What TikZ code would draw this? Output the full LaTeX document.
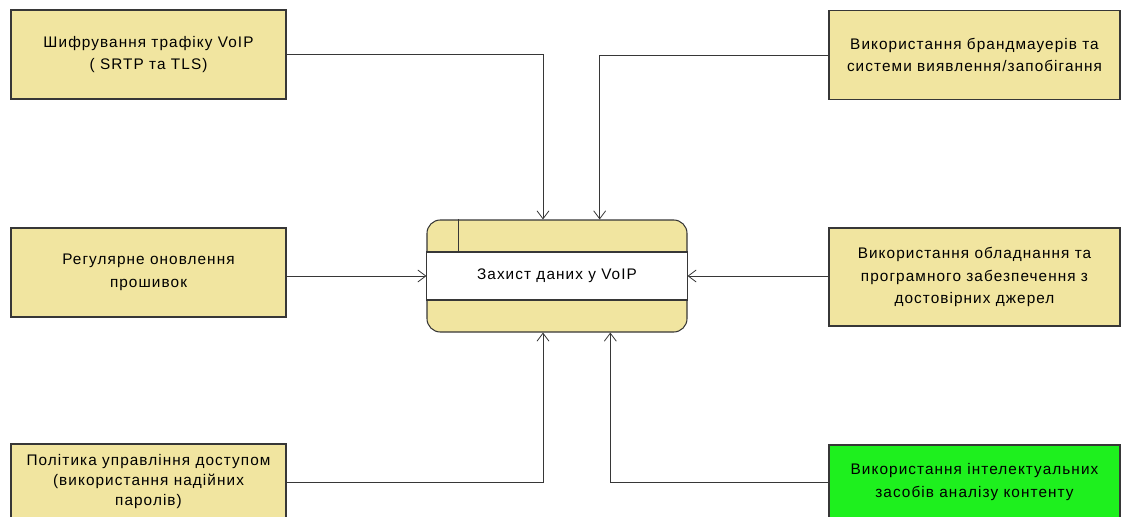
\documentclass[tikz,border=0pt]{standalone}
\usepackage{fontspec}
\setmainfont{Liberation Sans}[LetterSpace=7]
\usepackage{xcolor}
\usepackage{tikz}
\usetikzlibrary{arrows.meta}
\definecolor{tanFill}{RGB}{241,229,160}
\definecolor{limeFill}{RGB}{30,240,30}
\definecolor{edgeGray}{RGB}{55,55,55}

\begin{document}
\begin{tikzpicture}[
  x=0.75pt, y=-0.75pt,
  font=\fontsize{11.5}{17}\selectfont,
  box/.style={draw=edgeGray, thick, fill=tanFill, align=center,
              minimum width=206.25pt, minimum height=66.75pt, inner sep=2pt},
  widebox/.style={box, minimum width=218.25pt},
  procbox/.style={draw=edgeGray, thick, fill=tanFill, rounded corners=10pt,
              minimum width=195pt, minimum height=84pt},
  arr/.style={-{Straight Barb[length=6pt,width=9pt]}, semithick, edgeGray}
]
\clip (0,0) rectangle (1122,517);

\node[box] (enc) at (148.5,54.5)
  {Шифрування трафіку VoIP\\( SRTP та TLS)};

\node[box] (upd) at (148.5,272.5)
  {Регулярне оновлення\\прошивок};

\node[box, minimum height=57pt, font=\fontsize{11.5}{15}\selectfont] (pol) at (148.5,482)
  {Політика управління доступом\\(використання надійних\\паролів)};

\node[widebox] (fw) at (974.5,55)
  {Використання брандмауерів та\\системи виявлення/запобігання};

\node[widebox, minimum height=73.5pt] (hw) at (974.5,277)
  {Використання обладнання та\\програмного забезпечення з\\достовірних джерел};

\node[widebox, fill=limeFill, minimum height=55.5pt] (ai) at (974.5,482)
  {Використання інтелектуальних\\засобів аналізу контенту};

\node[procbox] (prot) at (557,276) {};
\draw[edgeGray, thick, fill=white] ([yshift=18pt]prot.west) rectangle ([yshift=-18pt]prot.east);
\draw[edgeGray, thick] ([xshift=24pt]prot.north west) -- ([xshift=24pt,yshift=18pt]prot.west);
\node (title) at (prot) {Захист даних у VoIP};

\draw[arr] (enc.east) -| ([xshift=-10.5pt]prot.north);
\draw[arr] (fw.west) -| ([xshift=32pt]prot.north);
\draw[arr] (upd.east |- prot.west) -- (prot.west);
\draw[arr] (hw.west |- prot.east) -- (prot.east);
\draw[arr] (pol.east) -| ([xshift=-10.5pt]prot.south);
\draw[arr] (ai.west) -| ([xshift=40pt]prot.south);

\end{tikzpicture}
\end{document}
